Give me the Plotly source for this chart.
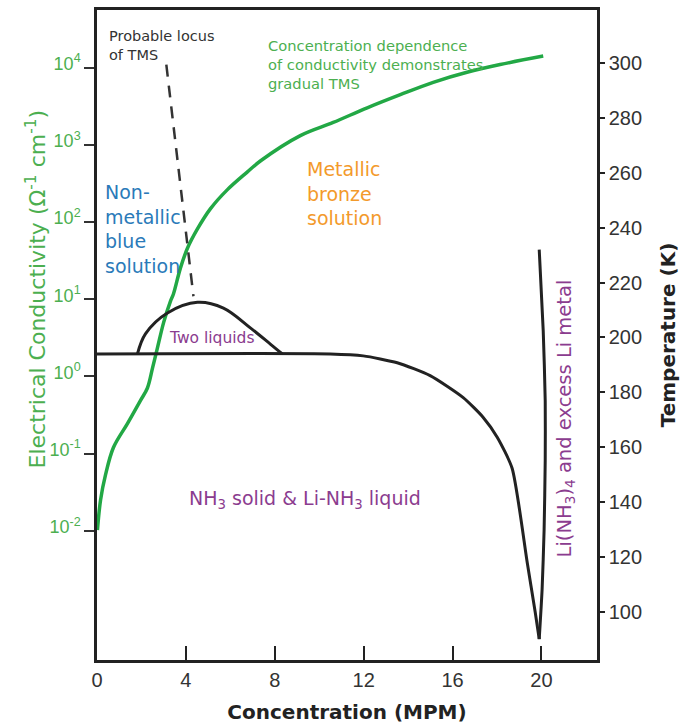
import plotly.graph_objects as go

# ---- data ----
# Conductivity curve (concentration in MPM, conductivity in ohm^-1 cm^-1)
cond_x = [0.02, 0.16, 0.38, 0.74, 1.37, 1.96, 2.27, 2.50, 2.72, 3.00, 3.30, 3.44, 3.75, 4.07,
          4.52, 5.10, 5.87, 6.77, 7.35, 9.15, 10.63, 12.16, 13.65, 15.13, 16.65, 18.14, 20.08]
cond_y = [0.0102, 0.0251, 0.0525, 0.120, 0.245, 0.490, 0.708, 1.29, 2.34, 5.01, 9.33, 11.7, 25.1, 45.7,
          81.3, 148, 263, 447, 617, 1318, 1950, 3020, 4467, 6457, 8710, 10965, 14125]

# Solidus / liquidus (temperature, K)
liq_x = [0.0, 10.50, 11.98, 13.51, 14.99, 16.48, 17.38, 18.01, 18.68, 19.36, 19.72, 19.90]
liq_t = [194.0, 194.0, 193.3, 190.8, 186.1, 178.1, 170.9, 163.7, 152.4, 118.1, 100.0, 90.2]

# Right branch near Li(NH3)4
rb_x = [19.90, 20.03, 20.12, 20.17, 20.17, 20.08, 19.90]
rb_t = [90.2, 108.3, 130.0, 155.3, 177.0, 202.4, 232.0]

# Two-liquid dome
dome_x = [1.82, 2.18, 3.17, 4.52, 5.69, 6.90, 7.80, 8.34]
dome_t = [194.0, 201.3, 208.9, 212.8, 210.7, 203.5, 197.6, 194.0]

# Probable locus of TMS (dashed)
tms_x = [3.12, 4.34]
tms_t = [299.3, 215.0]

x_ticks = [0, 4, 8, 12, 16, 20]
cond_ticks = [0.01, 0.1, 1, 10, 100, 1000, 10000]
cond_ticktext = ["10<sup>-2</sup>", "10<sup>-1</sup>", "10<sup>0</sup>", "10<sup>1</sup>",
                 "10<sup>2</sup>", "10<sup>3</sup>", "10<sup>4</sup>"]
temp_ticks = [100, 120, 140, 160, 180, 200, 220, 240, 260, 280, 300]

GREEN_LINE = "#22a845"
GREEN_TEXT = "#4caf50"
BLUE = "#2a7ab9"
ORANGE = "#f39a2b"
PURPLE = "#8b3c8f"
DARK = "#222222"
FONT = "Liberation Sans, Arial, sans-serif"
WIDE = "DejaVu Sans, Verdana, sans-serif"

fig = go.Figure()

fig.add_trace(go.Scatter(x=liq_x, y=liq_t, yaxis="y2", mode="lines",
                         line=dict(color=DARK, width=3, shape="spline", smoothing=0.6),
                         showlegend=False))
fig.add_trace(go.Scatter(x=rb_x, y=rb_t, yaxis="y2", mode="lines",
                         line=dict(color=DARK, width=3, shape="spline", smoothing=0.6),
                         showlegend=False))
fig.add_trace(go.Scatter(x=dome_x, y=dome_t, yaxis="y2", mode="lines",
                         line=dict(color=DARK, width=3, shape="spline"),
                         showlegend=False))
fig.add_trace(go.Scatter(x=tms_x, y=tms_t, yaxis="y2", mode="lines",
                         line=dict(color="#333333", width=2.5, dash="12px,9px"),
                         showlegend=False))
fig.add_trace(go.Scatter(x=cond_x, y=cond_y, yaxis="y", mode="lines",
                         line=dict(color=GREEN_LINE, width=3.5, shape="spline", smoothing=1.0),
                         showlegend=False))

annotations = [
    dict(x=0.47, y=306.3, yref="y2", xref="x", text="Probable locus<br>of TMS", showarrow=False,
         xanchor="left", yanchor="middle", align="left",
         font=dict(family=WIDE, size=14.5, color="#333333")),
    dict(x=7.6, y=299.3, yref="y2", xref="x",
         text="Concentration dependence<br>of conductivity demonstrates<br>gradual TMS",
         showarrow=False, xanchor="left", yanchor="middle", align="left",
         font=dict(family=WIDE, size=14.7, color=GREEN_TEXT)),
    dict(x=0.25, y=239.6, yref="y2", xref="x", text="Non-<br>metallic<br>blue<br>solution",
         showarrow=False, xanchor="left", yanchor="middle", align="left",
         font=dict(family=WIDE, size=19, color=BLUE)),
    dict(x=9.38, y=252.5, yref="y2", xref="x", text="Metallic<br>bronze<br>solution",
         showarrow=False, xanchor="left", yanchor="middle", align="left",
         font=dict(family=WIDE, size=19, color=ORANGE)),
    dict(x=3.15, y=199.8, yref="y2", xref="x", text="Two liquids",
         showarrow=False, xanchor="left", yanchor="middle",
         font=dict(family=WIDE, size=15.5, color=PURPLE)),
    dict(x=4.03, y=141.2, yref="y2", xref="x", text="NH<sub>3</sub> solid &amp; Li-NH<sub>3</sub> liquid",
         showarrow=False, xanchor="left", yanchor="middle",
         font=dict(family=WIDE, size=19, color=PURPLE)),
    dict(x=21.1, y=170.5, yref="y2", xref="x", text="Li(NH<sub>3</sub>)<sub>4</sub> and excess Li metal",
         showarrow=False, xanchor="center", yanchor="middle", textangle=-90,
         font=dict(family=WIDE, size=19.5, color=PURPLE)),
    # left axis title
    dict(x=-0.124, y=0.570, xref="paper", yref="paper",
         text="Electrical Conductivity (Ω<sup>-1</sup> cm<sup>-1</sup>)",
         showarrow=False, xanchor="center", yanchor="middle", textangle=-90,
         font=dict(family=WIDE, size=22, color=GREEN_TEXT)),
]

fig.update_layout(
    width=696, height=728,
    margin=dict(l=97, r=99, t=7, b=67),
    paper_bgcolor="white", plot_bgcolor="white",
    font=dict(family=FONT, color=DARK),
    annotations=annotations,
    xaxis=dict(
        range=[0, 22.5], tickvals=x_ticks, ticks="inside", ticklen=14, tickwidth=2,
        tickcolor=DARK, showgrid=False, zeroline=False, showline=True, linecolor=DARK,
        linewidth=2.5, mirror=True, tickfont=dict(size=20, color="#333333"),
        title=dict(text="<b>Concentration (MPM)</b>", font=dict(family=WIDE, size=20, color=DARK),
                   standoff=16),
    ),
    yaxis=dict(
        type="log", range=[-3.674, 4.747], tickvals=cond_ticks, ticktext=cond_ticktext,
        ticks="outside", ticklen=10, tickwidth=2, tickcolor="#333333",
        showgrid=False, zeroline=False, showline=True, linecolor=DARK, linewidth=2.5,
        tickfont=dict(size=18, color=GREEN_TEXT), ticklabelshift=-4,
    ),
    yaxis2=dict(
        overlaying="y", side="right", range=[82.6, 319.2], tickvals=temp_ticks,
        ticks="outside", ticklen=5, tickwidth=2, tickcolor=DARK,
        showgrid=False, zeroline=False, showline=True, linecolor=DARK, linewidth=2.5,
        tickfont=dict(size=20, color="#333333"),
        title=dict(text="<b>Temperature (K)</b>", font=dict(family=WIDE, size=20, color=DARK),
                   standoff=20),
    ),
)

fig.write_html("out.html")
